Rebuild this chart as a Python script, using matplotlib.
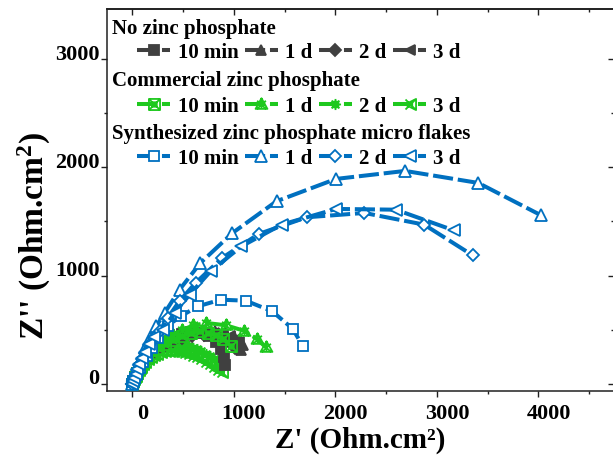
import matplotlib
matplotlib.use('Agg')
import matplotlib.pyplot as plt
from matplotlib.path import Path
from matplotlib.transforms import ScaledTranslation
from matplotlib.ticker import MultipleLocator

plt.rcParams['font.family'] = ['Liberation Serif', 'DejaVu Serif']
plt.rcParams['font.weight'] = 'bold'
plt.rcParams['mathtext.fontset'] = 'custom'
plt.rcParams['mathtext.rm'] = 'Liberation Serif:bold'
plt.rcParams['mathtext.bf'] = 'Liberation Serif:bold'
plt.rcParams['mathtext.it'] = 'Liberation Serif:bold:italic'

# ---------------- data ----------------
time_labels = ['10 min', '1 d', '2 d', '3 d']
group_titles = ['No zinc phosphate', 'Commercial zinc phosphate',
                'Synthesized zinc phosphate micro flakes']

# No zinc phosphate
nz_10min_x = [0, 10, 25, 45, 70, 100, 140, 190, 250, 320, 400, 490, 580, 670, 750, 820, 870, 905, 915]
nz_10min_y = [0, 30, 65, 105, 150, 195, 245, 295, 345, 390, 430, 460, 478, 470, 440, 390, 320, 246, 178]
nz_1d_x = [0, 10, 25, 45, 70, 100, 140, 190, 250, 320, 400, 490, 590, 700, 810, 910, 1000, 1060, 1090, 1074]
nz_1d_y = [0, 30, 65, 105, 150, 195, 240, 290, 340, 385, 425, 460, 485, 495, 490, 470, 440, 409, 360, 317]
nz_2d_x = [0, 10, 25, 45, 70, 100, 140, 190, 250, 320, 400, 490, 590, 700, 800, 880, 940, 990, 1010]
nz_2d_y = [0, 30, 62, 100, 142, 185, 230, 275, 320, 360, 395, 425, 445, 450, 440, 420, 395, 365, 330]
nz_3d_x = [0, 10, 25, 45, 70, 100, 140, 190, 250, 320, 400, 490, 590, 700, 800, 890, 960, 1020, 1050]
nz_3d_y = [0, 30, 64, 104, 148, 192, 238, 285, 332, 375, 415, 448, 470, 480, 475, 460, 440, 415, 385]

# Commercial zinc phosphate
cz_10min_x = [0, 10, 25, 45, 70, 100, 140, 190, 250, 320, 400, 490, 580, 662, 743, 820, 892, 975]
cz_10min_y = [0, 30, 64, 104, 148, 192, 238, 285, 330, 370, 410, 445, 475, 487, 471, 450, 418, 354]
cz_1d_x = [0, 10, 25, 45, 70, 100, 140, 190, 250, 320, 400, 490, 600, 728, 919, 1096, 1222, 1314]
cz_1d_y = [0, 32, 68, 110, 155, 200, 250, 300, 350, 400, 450, 500, 540, 563, 542, 492, 418, 339]
cz_2d_x = [0, 8, 18, 30, 45, 62, 80, 100, 125, 150, 180, 210, 245, 280, 320, 360, 400, 440, 480,
           520, 560, 600, 640, 680, 720, 760, 800, 840, 880]
cz_2d_y = [0, 25, 52, 84, 118, 152, 185, 215, 245, 272, 298, 320, 340, 355, 367, 375, 378, 376, 370,
           362, 350, 336, 320, 300, 278, 254, 228, 200, 170]
cz_3d_x = [0, 8, 18, 30, 45, 62, 80, 100, 125, 150, 180, 210, 245, 280, 320, 360, 400, 440, 480,
           520, 560, 600, 640, 680, 720, 760, 800, 840, 880]
cz_3d_y = [0, 24, 48, 76, 104, 132, 158, 183, 206, 228, 248, 265, 280, 292, 300, 305, 306, 303, 297,
           288, 276, 262, 246, 228, 207, 184, 160, 133, 110]

# Synthesized zinc phosphate micro flakes
sz_10min_x = [0, 10, 25, 45, 70, 100, 140, 190, 247, 346, 474, 645, 869, 1116, 1376, 1577, 1676]
sz_10min_y = [0, 25, 55, 95, 145, 200, 260, 330, 425, 536, 625, 717, 778, 769, 671, 511, 354]
sz_1d_x = [0, 8, 18, 30, 45, 65, 90, 125, 168, 234, 316, 464, 669, 985, 1419, 2005, 2686, 3407, 4020]
sz_1d_y = [0, 25, 55, 95, 140, 190, 245, 330, 425, 533, 655, 871, 1117, 1394, 1687, 1893, 1967, 1856, 1560]
sz_2d_x = [0, 8, 18, 30, 45, 65, 90, 120, 160, 210, 267, 346, 464, 622, 882, 1244, 1716, 2284, 2874, 3351]
sz_2d_y = [0, 22, 50, 88, 130, 178, 230, 290, 360, 425, 489, 609, 766, 933, 1163, 1385, 1539, 1579, 1471, 1188]
sz_3d_x = [0, 8, 18, 30, 45, 65, 90, 120, 160, 215, 296, 415, 563, 770, 1074, 1469, 2005, 2595, 3163]
sz_3d_y = [0, 24, 52, 90, 134, 184, 238, 298, 368, 430, 499, 656, 825, 1041, 1271, 1471, 1616, 1609, 1419]

# ---------------- styles ----------------
C_GREY = '#404040'
C_GREEN = '#1ec81e'
C_BLUE = '#0070c0'

M, L, C = Path.MOVETO, Path.LINETO, Path.CLOSEPOLY
sq_x = Path([(-1, -1), (1, -1), (1, 1), (-1, 1), (-1, -1),
             (-1, -1), (1, 1), (-1, 1), (1, -1), (-0.4, -0.4), (0.4, -0.4), (0.4, 0.4), (-0.4, 0.4), (-0.4, -0.4)],
            [M, L, L, L, C, M, L, M, L, M, L, L, L, C])
tri_x = Path([(0, 1), (-0.95, -0.7), (0.95, -0.7), (0, 1),
              (-0.7, 0.6), (0.7, -0.7), (0.7, 0.6), (-0.7, -0.7), (0, 1), (0, -0.7)],
             [M, L, L, C, M, L, M, L, M, L])
star8 = Path([(-1, 0), (1, 0), (0, -1), (0, 1), (-0.7, -0.7), (0.7, 0.7), (-0.7, 0.7), (0.7, -0.7),
              (-0.5, -0.5), (0.5, -0.5), (0.5, 0.5), (-0.5, 0.5), (-0.5, -0.5)],
             [M, L, M, L, M, L, M, L, M, L, L, L, C])
bow_x = Path([(-1, 0), (1, 1), (1, -1), (-1, 0),
              (-0.9, 0.9), (0.9, -0.9), (-0.9, -0.9), (0.9, 0.9)],
             [M, L, L, C, M, L, M, L])

fig = plt.figure(figsize=(6.13, 4.56), dpi=100)
W, H = 613, 456
ax = fig.add_axes([107 / W, (H - 392) / H, (614 - 107) / W, (392 - 10) / H])

LW = 2.9
DASH = (0, (5, 1.2))


def series(x, y, color, marker, filled, ms=7.5, z=2):
    fc = color if filled else ('white' if isinstance(marker, str) else 'none')
    ln, = ax.plot(x, y, color=color, lw=LW, linestyle=DASH, marker=marker, ms=ms,
                  mfc=fc, mec=color, mew=1.3, zorder=z)
    return ln


h_cz2 = series(cz_2d_x, cz_2d_y, C_GREEN, star8, False, ms=8, z=2)
h_cz3 = series(cz_3d_x, cz_3d_y, C_GREEN, bow_x, False, ms=8, z=2)
h_nz0 = series(nz_10min_x, nz_10min_y, C_GREY, 's', True, ms=7, z=3)
h_nz1 = series(nz_1d_x, nz_1d_y, C_GREY, '^', True, ms=7.5, z=3)
h_nz2 = series(nz_2d_x, nz_2d_y, C_GREY, 'D', True, ms=6, z=3)
h_nz3 = series(nz_3d_x, nz_3d_y, C_GREY, '<', True, ms=7.5, z=3)
h_cz0 = series(cz_10min_x, cz_10min_y, C_GREEN, sq_x, False, ms=8, z=4)
h_cz1 = series(cz_1d_x, cz_1d_y, C_GREEN, tri_x, False, ms=9, z=4)
h_sz0 = series(sz_10min_x, sz_10min_y, C_BLUE, 's', False, ms=7, z=5)
h_sz1 = series(sz_1d_x, sz_1d_y, C_BLUE, '^', False, ms=8.5, z=5)
h_sz2 = series(sz_2d_x, sz_2d_y, C_BLUE, 'D', False, ms=6.5, z=5)
h_sz3 = series(sz_3d_x, sz_3d_y, C_BLUE, '<', False, ms=8.5, z=5)

# ---------------- axes ----------------
ax.set_xlim(-251, 4744)
ax.set_ylim(-65, 3462)
ax.xaxis.set_major_locator(MultipleLocator(1000))
ax.xaxis.set_minor_locator(MultipleLocator(500))
ax.yaxis.set_major_locator(MultipleLocator(1000))
ax.yaxis.set_minor_locator(MultipleLocator(500))
for s in ax.spines.values():
    s.set_linewidth(1.1)
    s.set_color('#202020')
ax.tick_params(which='both', direction='out', width=1.0, color='#202020')
ax.tick_params(which='major', length=4.5)
ax.tick_params(which='minor', length=2.5)
ax.tick_params(axis='x', labelsize=16, pad=4)
ax.tick_params(axis='y', labelsize=16, pad=1)

sx = ax.secondary_xaxis('top')
sx.xaxis.set_major_locator(MultipleLocator(1000))
sx.xaxis.set_minor_locator(MultipleLocator(500))
sx.tick_params(which='both', direction='in', labeltop=False, width=1.0, color='#202020')
sx.tick_params(which='major', length=4.5)
sx.tick_params(which='minor', length=2.5)
sx.spines['top'].set_linewidth(1.1)
sy = ax.secondary_yaxis('right')
sy.yaxis.set_major_locator(MultipleLocator(1000))
sy.yaxis.set_minor_locator(MultipleLocator(500))
sy.tick_params(which='both', direction='in', labelright=False, width=1.0, color='#202020')
sy.tick_params(which='major', length=4.5)
sy.tick_params(which='minor', length=2.5)

for lab in ax.get_xticklabels():
    lab.set_fontweight('bold')
    lab.set_transform(lab.get_transform() + ScaledTranslation(0.10, 0, fig.dpi_scale_trans))
for lab in ax.get_yticklabels():
    lab.set_fontweight('bold')
    lab.set_transform(lab.get_transform() + ScaledTranslation(0, 0.08, fig.dpi_scale_trans))

ax.set_xlabel("Z' (Ohm.cm²)", fontsize=21, fontweight='bold', labelpad=2)
ax.set_ylabel("Z'' (Ohm.cm$^{2}$)", fontsize=24, fontweight='bold')
ax.yaxis.set_label_coords((53 - 107) / 507, (392 - 236) / 382)

# ---------------- legend ----------------
groups = [[h_nz0, h_nz1, h_nz2, h_nz3],
          [h_cz0, h_cz1, h_cz2, h_cz3],
          [h_sz0, h_sz1, h_sz2, h_sz3]]
title_y = [29, 81, 134]
row_y = [53, 107, 159]
legs = []
for g, handles in enumerate(groups):
    fig.text(112 / W, 1 - title_y[g] / H, group_titles[g], ha='left', va='center',
             fontsize=15, fontweight='bold')
    leg = ax.legend(handles, time_labels, ncol=4, loc='center left',
                    bbox_to_anchor=(137 / W, 1 - row_y[g] / H), bbox_transform=fig.transFigure,
                    frameon=False, borderpad=0, borderaxespad=0, handlelength=1.6,
                    handletextpad=0.35, columnspacing=0.3, numpoints=1,
                    prop={'size': 15, 'weight': 'bold'})
    legs.append(leg)
for leg in legs[:-1]:
    ax.add_artist(leg)

fig.savefig('out.png', dpi=100)
